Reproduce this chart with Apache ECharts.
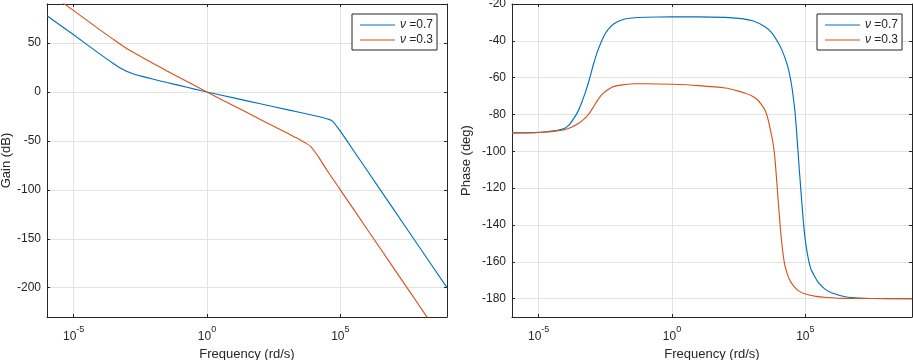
<!DOCTYPE html>
<html>
<head>
<meta charset="utf-8">
<script src="https://cdn.jsdelivr.net/npm/echarts@6/dist/echarts.min.js"></script>
<style>
  html, body { margin: 0; padding: 0; background: #fff; }
  #chart { width: 913px; height: 360px; }
</style>
</head>
<body>
<div id="chart"></div>
<script>
// frequencies are stored as log10 of rd/s
const gainExp07 = [-6, -5, -4, -3.5, -3.25, -3, -2.75, -2.5, -2, -1.5, -1, -0.5, 0, 1, 2, 3, 4, 4.4, 4.6, 4.72, 4.85, 5, 5.5, 6, 7, 8, 9];
const gain07 = [78, 58.5, 38.5, 29, 24.5, 21, 18.5, 16.5, 13, 9.7, 6.5, 3.2, 0, -6, -12, -18, -24, -26.6, -28.2, -30, -34.5, -40, -60, -80, -120, -160, -200];

const gainExp03 = [-6, -5, -4, -3.5, -3.25, -3, -2.75, -2.5, -2.25, -2, -1.5, -1, 0, 1, 2, 3, 3.5, 3.75, 3.9, 4, 4.2, 4.5, 5, 6, 7, 8, 8.5];
const gain03 = [103, 83.2, 63.3, 53.6, 48.8, 44.3, 40.3, 36.5, 32.8, 29, 21.5, 14.3, 0, -14, -28, -42, -49, -53, -56, -59.5, -67, -80, -100, -140, -180, -220, -240];

const phaseExp07 = [-6, -5, -4.5, -4.25, -4, -3.85, -3.7, -3.55, -3.4, -3.25, -3.1, -2.95, -2.8, -2.65, -2.5, -2.3, -2.1, -1.8, -1.5, -1, 0, 1, 2, 2.5, 3, 3.5, 3.75, 4, 4.15, 4.3, 4.4, 4.5, 4.6, 4.65, 4.7, 4.75, 4.8, 4.85, 4.9, 4.95, 5, 5.1, 5.2, 5.35, 5.5, 5.75, 6, 6.5, 7, 8, 9];
const phase07 = [-90, -89.7, -89, -88.5, -87.3, -85.5, -82.5, -79, -74, -68, -61, -53, -46, -40.5, -36, -32.3, -30, -28.3, -27.6, -27.2, -27, -27, -27.3, -27.8, -29, -32.5, -35.8, -41.5, -46, -52, -57.5, -65.5, -77, -85, -95, -105, -115, -124.5, -133.5, -142, -148.5, -157.5, -163.5, -168, -171.5, -175, -177, -179, -179.7, -180, -180];

const phaseExp03 = [-6, -5, -4.5, -4.25, -4, -3.75, -3.5, -3.3, -3.1, -2.95, -2.8, -2.65, -2.5, -2.3, -2.1, -1.8, -1.4, -1, 0, 1, 2, 2.5, 2.75, 3, 3.2, 3.35, 3.5, 3.6, 3.7, 3.77, 3.84, 3.9, 3.96, 4.02, 4.08, 4.15, 4.22, 4.3, 4.4, 4.55, 4.75, 5, 5.4, 5.8, 6.5, 9];
const phase03 = [-90, -89.8, -89.3, -88.8, -88.2, -86.8, -84.8, -82.5, -79.4, -76, -72.5, -69.5, -67.5, -65.6, -64.5, -63.8, -63.3, -63.3, -63.6, -64.3, -65.6, -67.3, -68.5, -70, -72, -74.5, -78, -82.5, -89, -94, -101, -111, -122.5, -134, -144.5, -154, -161, -165.5, -169.5, -173, -175.8, -177.5, -178.8, -179.4, -179.9, -180];

const seriesNames = ['ν =0.7', 'ν =0.3'];
const seriesColors = ['#0072BD', '#D95319'];

const FONT = "'Liberation Sans', Arial, sans-serif";
const INK = '#262626';

const zip = (xs, ys) => xs.map((x, i) => [x, ys[i]]);

function xAxisFor(grid, bottom) {
  return {
    type: 'value', gridIndex: grid, position: bottom ? 'bottom' : 'top',
    min: -6, max: 9, splitNumber: 3,
    axisLine: { show: true, onZero: false, lineStyle: { color: INK, width: 1 } },
    axisTick: { show: true, inside: true, length: 3, lineStyle: { color: INK } },
    splitLine: { show: bottom, lineStyle: { color: '#e3e3e3', width: 1 } },
    axisLabel: {
      show: bottom, showMinLabel: false, showMaxLabel: false, margin: 8,
      formatter: v => '{b|10}{e|' + v + '}',
      rich: {
        b: { fontSize: 12, fontFamily: FONT, color: INK, lineHeight: 18, verticalAlign: 'bottom' },
        e: { fontSize: 9, fontFamily: FONT, color: INK, verticalAlign: 'top' }
      }
    },
    name: bottom ? 'Frequency (rd/s)' : '',
    nameLocation: 'middle', nameGap: 25,
    nameTextStyle: { fontSize: 13, fontFamily: FONT, color: INK }
  };
}

function yAxisFor(grid, left, min, max, split, showMax, name, gap) {
  return {
    type: 'value', gridIndex: grid, position: left ? 'left' : 'right',
    min: min, max: max, splitNumber: split,
    axisLine: { show: true, onZero: false, lineStyle: { color: INK, width: 1 } },
    axisTick: { show: true, inside: true, length: 3, lineStyle: { color: INK } },
    splitLine: { show: left, lineStyle: { color: '#e3e3e3', width: 1 } },
    axisLabel: {
      show: left, showMinLabel: false, showMaxLabel: showMax, margin: 6,
      fontSize: 12, fontFamily: FONT, color: INK
    },
    name: left ? name : '',
    nameLocation: 'middle', nameGap: gap,
    nameTextStyle: { fontSize: 13, fontFamily: FONT, color: INK }
  };
}

function legendAt(left) {
  return {
    left: left, top: 14, orient: 'vertical',
    data: seriesNames,
    icon: 'rect', itemWidth: 35, itemHeight: 1.2, itemGap: 1,
    padding: [4, 4, 3, 8],
    backgroundColor: '#fff', borderColor: INK, borderWidth: 1, borderRadius: 0,
    formatter: n => '{i|ν}' + n.slice(1),
    textStyle: {
      fontSize: 12, fontFamily: FONT, color: INK, lineHeight: 14,
      rich: { i: { fontStyle: 'italic', fontSize: 12, fontFamily: FONT, color: INK } }
    }
  };
}

function line(name, color, xi, yi, data) {
  return {
    name: name, type: 'line', xAxisIndex: xi, yAxisIndex: yi,
    data: data, symbol: 'none', clip: true, smooth: 0.2,
    lineStyle: { color: color, width: 1.15 }, itemStyle: { color: color }
  };
}

const chart = echarts.init(document.getElementById('chart'));
chart.setOption({
  animation: false,
  grid: [
    { left: 47, right: 466, top: 4, bottom: 43, outerBoundsMode: 'none' },
    { left: 512, right: 1, top: 4, bottom: 43, outerBoundsMode: 'none' }
  ],
  xAxis: [xAxisFor(0, true), xAxisFor(0, false), xAxisFor(1, true), xAxisFor(1, false)],
  yAxis: [
    yAxisFor(0, true, -230, 90, 6, false, 'Gain (dB)', 31),
    yAxisFor(0, false, -230, 90, 6, false, '', 0),
    yAxisFor(1, true, -190, -20, 8, true, 'Phase (deg)', 39),
    yAxisFor(1, false, -190, -20, 8, true, '', 0)
  ],
  legend: [legendAt(352), legendAt(817)],
  series: [
    line(seriesNames[0], seriesColors[0], 0, 0, zip(gainExp07, gain07)),
    line(seriesNames[1], seriesColors[1], 0, 0, zip(gainExp03, gain03)),
    line(seriesNames[0], seriesColors[0], 2, 2, zip(phaseExp07, phase07)),
    line(seriesNames[1], seriesColors[1], 2, 2, zip(phaseExp03, phase03))
  ]
});
</script>
</body>
</html>
